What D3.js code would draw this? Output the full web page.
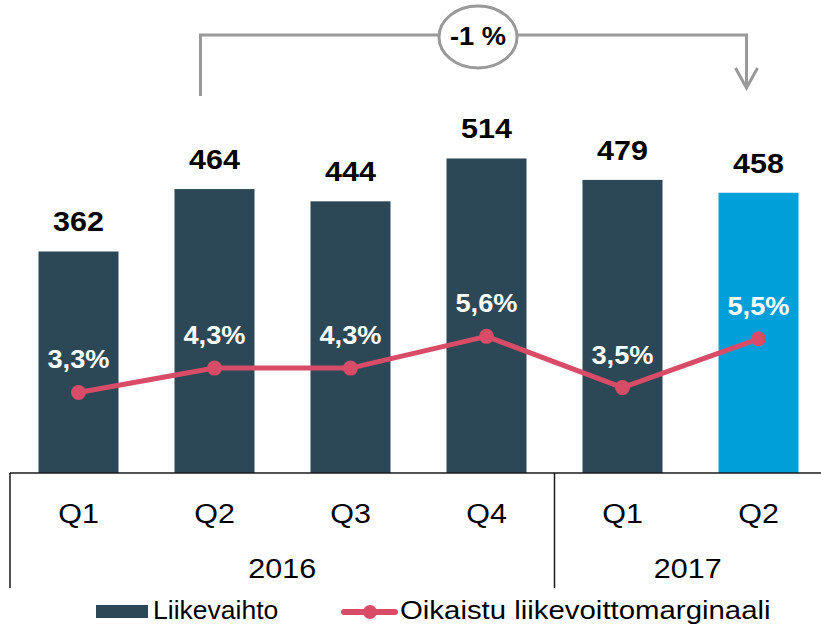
<!DOCTYPE html>
<html>
<head>
<meta charset="utf-8">
<script src="https://cdn.jsdelivr.net/npm/d3@7"></script>
<style>
  html, body { margin: 0; padding: 0; background: #fff; }
  svg { display: block; font-family: "Liberation Sans", Arial, sans-serif; }
</style>
</head>
<body>
<svg id="chart" width="821" height="624"></svg>
<script>
// ---- data ----
const categories = ["2016 Q1", "2016 Q2", "2016 Q3", "2016 Q4", "2017 Q1", "2017 Q2"];
const quarterLabels = ["Q1", "Q2", "Q3", "Q4", "Q1", "Q2"];
const years = ["2016", "2017"];
const quartersPerYear = [4, 2];
const revenue = [362, 464, 444, 514, 479, 458];          // Liikevaihto
const margin = [3.3, 4.3, 4.3, 5.6, 3.5, 5.5];           // Oikaistu liikevoittomarginaali, %
const marginLabels = ["3,3%", "4,3%", "4,3%", "5,6%", "3,5%", "5,5%"];
const highlightIndex = 5;
const changeLabel = "-1 %";
const changeFrom = 1, changeTo = 5;
const legendLabels = ["Liikevaihto", "Oikaistu liikevoittomarginaali"];

// ---- styles ----
const barColor = "#2C4755";
const highlightColor = "#009FDA";
const lineColor = "#D94C68";
const bracketColor = "#999999";
const stretch = 1.09;

const svg = d3.select("#chart");
const baseY = 473;

const x = d3.scaleBand().domain(categories).range([10.5, 826.5])
  .paddingInner(56 / 136).paddingOuter(28 / 136);
const y = d3.scaleLinear().domain([0, 773]).range([baseY, 0]);
const y2 = d3.scaleLinear().domain([0, 19.385]).range([baseY, 0]);
const cx = i => x(categories[i]) + x.bandwidth() / 2;

function text(g, tx, ty, str, size, weight, fill) {
  return g.append("text")
    .attr("transform", `translate(${tx},${ty}) scale(${stretch},1)`)
    .attr("text-anchor", "middle")
    .attr("font-size", size)
    .attr("font-weight", weight)
    .attr("fill", fill)
    .text(str);
}

// bars
svg.append("g").selectAll("rect").data(revenue).join("rect")
  .attr("x", (d, i) => x(categories[i]))
  .attr("y", d => y(d))
  .attr("width", x.bandwidth())
  .attr("height", d => baseY - y(d))
  .attr("fill", (d, i) => i === highlightIndex ? highlightColor : barColor);

// bar value labels
const lab = svg.append("g");
revenue.forEach((d, i) => text(lab, cx(i), y(d) - 20, d, 28, "bold", "#000"));

// line
const line = d3.line().x((d, i) => cx(i)).y(d => y2(d));
svg.append("path").datum(margin)
  .attr("d", line)
  .attr("fill", "none")
  .attr("stroke", lineColor)
  .attr("stroke-width", 5)
  .attr("stroke-linejoin", "round");
svg.append("g").selectAll("circle").data(margin).join("circle")
  .attr("cx", (d, i) => cx(i))
  .attr("cy", d => y2(d))
  .attr("r", 7.5)
  .attr("fill", lineColor);
const ml = svg.append("g");
margin.forEach((d, i) => text(ml, cx(i), y2(d) - 24, marginLabels[i], 25, "bold", "#fff"));

// category axis
const ax = svg.append("g");
ax.append("line").attr("x1", 10).attr("x2", 821).attr("y1", baseY).attr("y2", baseY)
  .attr("stroke", "#1a1a1a").attr("stroke-width", 1.5);
quarterLabels.forEach((q, i) => text(ax, cx(i), 523, q, 28, "normal", "#000"));
let start = 0;
const bounds = [10];
years.forEach((yr, k) => {
  const end = start + quartersPerYear[k] - 1;
  const left = k === 0 ? 10 : (cx(start - 1) + cx(start)) / 2;
  const right = end === categories.length - 1 ? 821 : (cx(end) + cx(end + 1)) / 2;
  if (k > 0) bounds.push(left);
  text(ax, (left + right) / 2, 578, yr, 28, "normal", "#000");
  start = end + 1;
});
bounds.forEach(bx => {
  ax.append("line").attr("x1", bx).attr("x2", bx).attr("y1", baseY).attr("y2", 588)
    .attr("stroke", "#1a1a1a").attr("stroke-width", 1.5);
});

// change bracket
const bx0 = cx(changeFrom) - 14, bx1 = cx(changeTo) - 12, by = 35;
const br = svg.append("g").attr("fill", "none").attr("stroke", bracketColor).attr("stroke-width", 3);
br.append("path").attr("d", `M${bx0},96 V${by} H${bx1} V88`);
br.append("path").attr("d", `M${bx1 - 11},68 L${bx1},88 L${bx1 + 11},68`);
const ex = 478, ey = 37;
svg.append("ellipse").attr("cx", ex).attr("cy", ey).attr("rx", 39).attr("ry", 31)
  .attr("fill", "#fff").attr("stroke", bracketColor).attr("stroke-width", 3);
text(svg, ex, 45, changeLabel, 25, "bold", "#000");

// legend
const lg = svg.append("g");
lg.append("rect").attr("x", 96).attr("y", 605).attr("width", 52).attr("height", 13).attr("fill", barColor);
lg.append("text").attr("x", 153).attr("y", 619).attr("font-size", 26).attr("fill", "#000")
  .attr("transform", `translate(153,0) scale(1.02,1) translate(-153,0)`).text(legendLabels[0]);
lg.append("line").attr("x1", 344).attr("x2", 395).attr("y1", 612).attr("y2", 612)
  .attr("stroke", lineColor).attr("stroke-width", 6).attr("stroke-linecap", "round");
lg.append("circle").attr("cx", 370).attr("cy", 612).attr("r", 7).attr("fill", lineColor);
lg.append("text").attr("x", 400).attr("y", 619).attr("font-size", 26).attr("fill", "#000")
  .attr("transform", `translate(400,0) scale(1.13,1) translate(-400,0)`).text(legendLabels[1]);
</script>
</body>
</html>
